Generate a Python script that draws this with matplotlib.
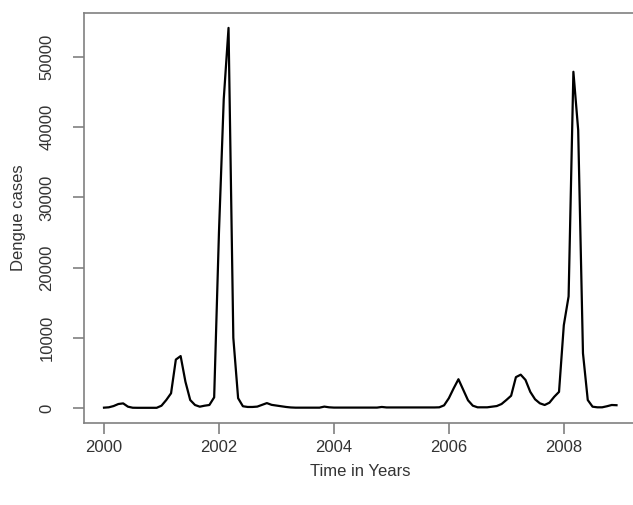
import numpy as np
import matplotlib
matplotlib.use("Agg")
import matplotlib.pyplot as plt

plt.rcParams['font.family'] = ['Liberation Sans', 'DejaVu Sans']

# monthly dengue cases, Jan 2000 .. Dec 2008
cases_2000 = [50, 100, 280, 570, 660, 190, 40, 30, 30, 30, 30, 30]
cases_2001 = [330, 1140, 2100, 6900, 7400, 3750, 1140, 430, 190, 330, 430, 1520]
cases_2002 = [25000, 44000, 54150, 10000, 1400, 250, 150, 150, 200, 450, 700, 450]
cases_2003 = [350, 250, 150, 80, 50, 50, 50, 50, 50, 50, 200, 100]
cases_2004 = [60, 60, 60, 60, 60, 60, 60, 60, 60, 60, 150, 80]
cases_2005 = [80, 80, 80, 80, 80, 80, 80, 80, 80, 80, 100, 380]
cases_2006 = [1400, 2800, 4100, 2600, 1100, 330, 100, 100, 100, 190, 280, 570]
cases_2007 = [1140, 1750, 4400, 4750, 4000, 2300, 1240, 670, 430, 760, 1600, 2300]
cases_2008 = [11800, 15900, 47900, 39600, 7800, 1140, 190, 100, 100, 250, 430, 400]

cases = np.array(cases_2000 + cases_2001 + cases_2002 + cases_2003 + cases_2004
                 + cases_2005 + cases_2006 + cases_2007 + cases_2008, dtype=float)
years = 2000 + np.arange(len(cases)) / 12.0

fig = plt.figure(figsize=(6.33, 5.05), dpi=100)
# axes box runs a bit past the right edge, like the cropped original
ax = fig.add_axes([83.5 / 633, 82 / 505, 553.5 / 633, 410.3 / 505])

ax.plot(years, cases, color='black', linewidth=1.6)

# R style 4% padding on both axes
xr = years.max() - years.min()
yr = cases.max() - cases.min()
ax.set_xlim(years.min() - 0.04 * xr, years.max() + 0.04 * xr)
ax.set_ylim(cases.min() - 0.04 * yr, cases.max() + 0.04 * yr)

ax.set_xticks([2000, 2002, 2004, 2006, 2008])
ax.set_yticks([0, 10000, 20000, 30000, 40000, 50000])
ax.set_yticklabels(['0', '10000', '20000', '30000', '40000', '50000'],
                   rotation=90, va='center')

for side in ['left', 'bottom', 'top', 'right']:
    ax.spines[side].set_color('#808080')
    ax.spines[side].set_linewidth(1.2)
ax.tick_params(axis='both', colors='#808080', length=8, width=1.2,
               labelcolor='#333333', labelsize=12)
ax.tick_params(axis='x', pad=4)
ax.tick_params(axis='y', pad=13)

ax.set_xlabel("Time in Years", fontsize=12, color='#333333', va='center')
ax.set_ylabel("Dengue cases", fontsize=12, color='#333333', va='center')
# put axis titles where they sit in the original
ax.xaxis.set_label_coords(0.5 - 0.0, -0.119)
ax.xaxis.label.set_x((360 - 83.5) / 553.5)
ax.yaxis.set_label_coords(-0.118, 0.5)

fig.savefig("out.png", dpi=100)
